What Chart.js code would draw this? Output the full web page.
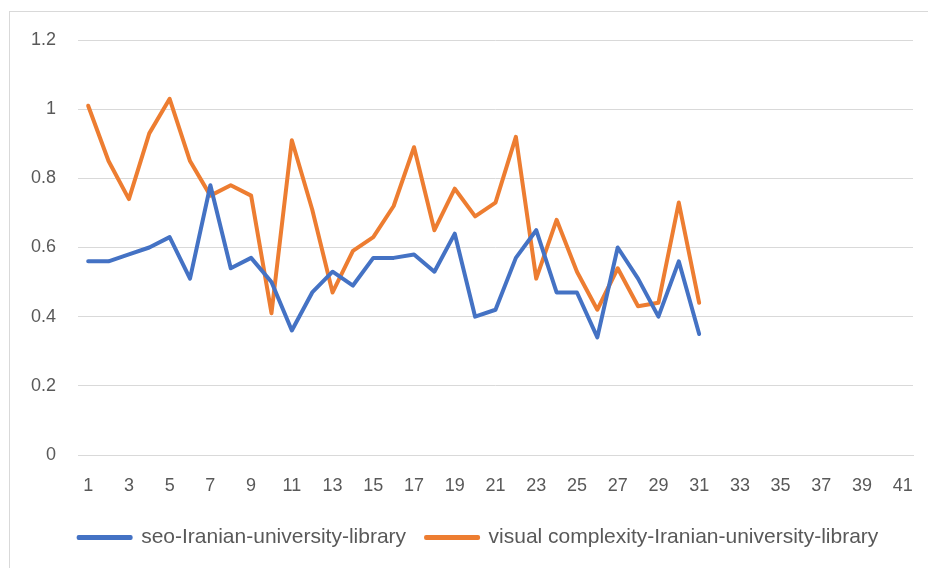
<!DOCTYPE html>
<html>
<head>
<meta charset="utf-8">
<script src="https://cdn.jsdelivr.net/npm/chart.js@4"></script>
<style>
  html, body { margin: 0; padding: 0; background: #fff; }
  #wrap { width: 928px; height: 568px; position: relative; }
</style>
</head>
<body>
<div id="wrap"><canvas id="c" width="928" height="568"></canvas></div>
<script>
const categories = Array.from({length: 41}, (_, i) => String(i + 1));
const seoValues = [0.56, 0.56, 0.58, 0.60, 0.63, 0.51, 0.78, 0.54, 0.57, 0.50,
                   0.36, 0.47, 0.53, 0.49, 0.57, 0.57, 0.58, 0.53, 0.64, 0.40,
                   0.42, 0.57, 0.65, 0.47, 0.47, 0.34, 0.60, 0.51, 0.40, 0.56, 0.35];
const visualValues = [1.01, 0.85, 0.74, 0.93, 1.03, 0.85, 0.75, 0.78, 0.75, 0.41,
                      0.91, 0.71, 0.47, 0.59, 0.63, 0.72, 0.89, 0.65, 0.77, 0.69,
                      0.73, 0.92, 0.51, 0.68, 0.53, 0.42, 0.54, 0.43, 0.44, 0.73, 0.44];
const seriesNames = ['seo-Iranian-university-library', 'visual complexity-Iranian-university-library'];
const yTicks = [0, 0.2, 0.4, 0.6, 0.8, 1, 1.2];

const borderPlugin = {
  id: 'frame',
  beforeDraw(chart) {
    const ctx = chart.ctx;
    ctx.save();
    ctx.fillStyle = '#fff';
    ctx.fillRect(0, 0, chart.width, chart.height);
    ctx.strokeStyle = '#D9D9D9';
    ctx.lineWidth = 1;
    ctx.strokeRect(9.5, 11.5, 940, 600);
    ctx.restore();
  },
  afterLayout(chart) {
    if (chart.legend) { chart.legend.left += 22; chart.legend.right += 22; }
  }
};

const fontFam = '"Liberation Sans", Arial, sans-serif';

new Chart(document.getElementById('c'), {
  type: 'line',
  data: {
    labels: categories,
    datasets: [
      { label: seriesNames[0], data: seoValues, borderColor: '#4472C4', backgroundColor: '#4472C4',
        borderWidth: 4, pointRadius: 0, tension: 0, fill: false,
        borderCapStyle: 'round', borderJoinStyle: 'round' },
      { label: seriesNames[1], data: visualValues, borderColor: '#ED7D31', backgroundColor: '#ED7D31',
        borderWidth: 4, pointRadius: 0, tension: 0, fill: false,
        borderCapStyle: 'round', borderJoinStyle: 'round' }
    ]
  },
  options: {
    responsive: false,
    animation: false,
    layout: { padding: { left: 0, right: 15, top: 40, bottom: 10 } },
    plugins: {
      tooltip: { enabled: false },
      legend: {
        position: 'bottom',
        align: 'center',
        labels: {
          boxWidth: 52, boxHeight: 1, padding: 20,
          color: '#595959',
          font: { family: fontFam, size: 21 }
        }
      }
    },
    scales: {
      x: {
        offset: true,
        grid: { display: false, drawTicks: false },
        border: { display: true, color: '#D9D9D9', width: 1 },
        ticks: {
          color: '#595959', font: { family: fontFam, size: 18 }, padding: 20,
          autoSkip: false, maxRotation: 0,
          callback: function(v, i) { return i % 2 === 0 ? categories[i] : ''; }
        },
        afterFit(scale) { scale.height = 52; scale.paddingRight = 0; scale.paddingLeft = 0; }
      },
      y: {
        min: 0, max: 1.2,
        afterBuildTicks(scale) { scale.ticks = yTicks.map(v => ({ value: v })); },
        grid: { color: '#D9D9D9', lineWidth: 1, drawTicks: false },
        border: { display: false },
        ticks: {
          color: '#595959', font: { family: fontFam, size: 18 }, padding: 22,
          callback: v => String(v)
        },
        afterFit(scale) { scale.width = 78; }
      }
    }
  },
  plugins: [borderPlugin]
});
</script>
</body>
</html>
